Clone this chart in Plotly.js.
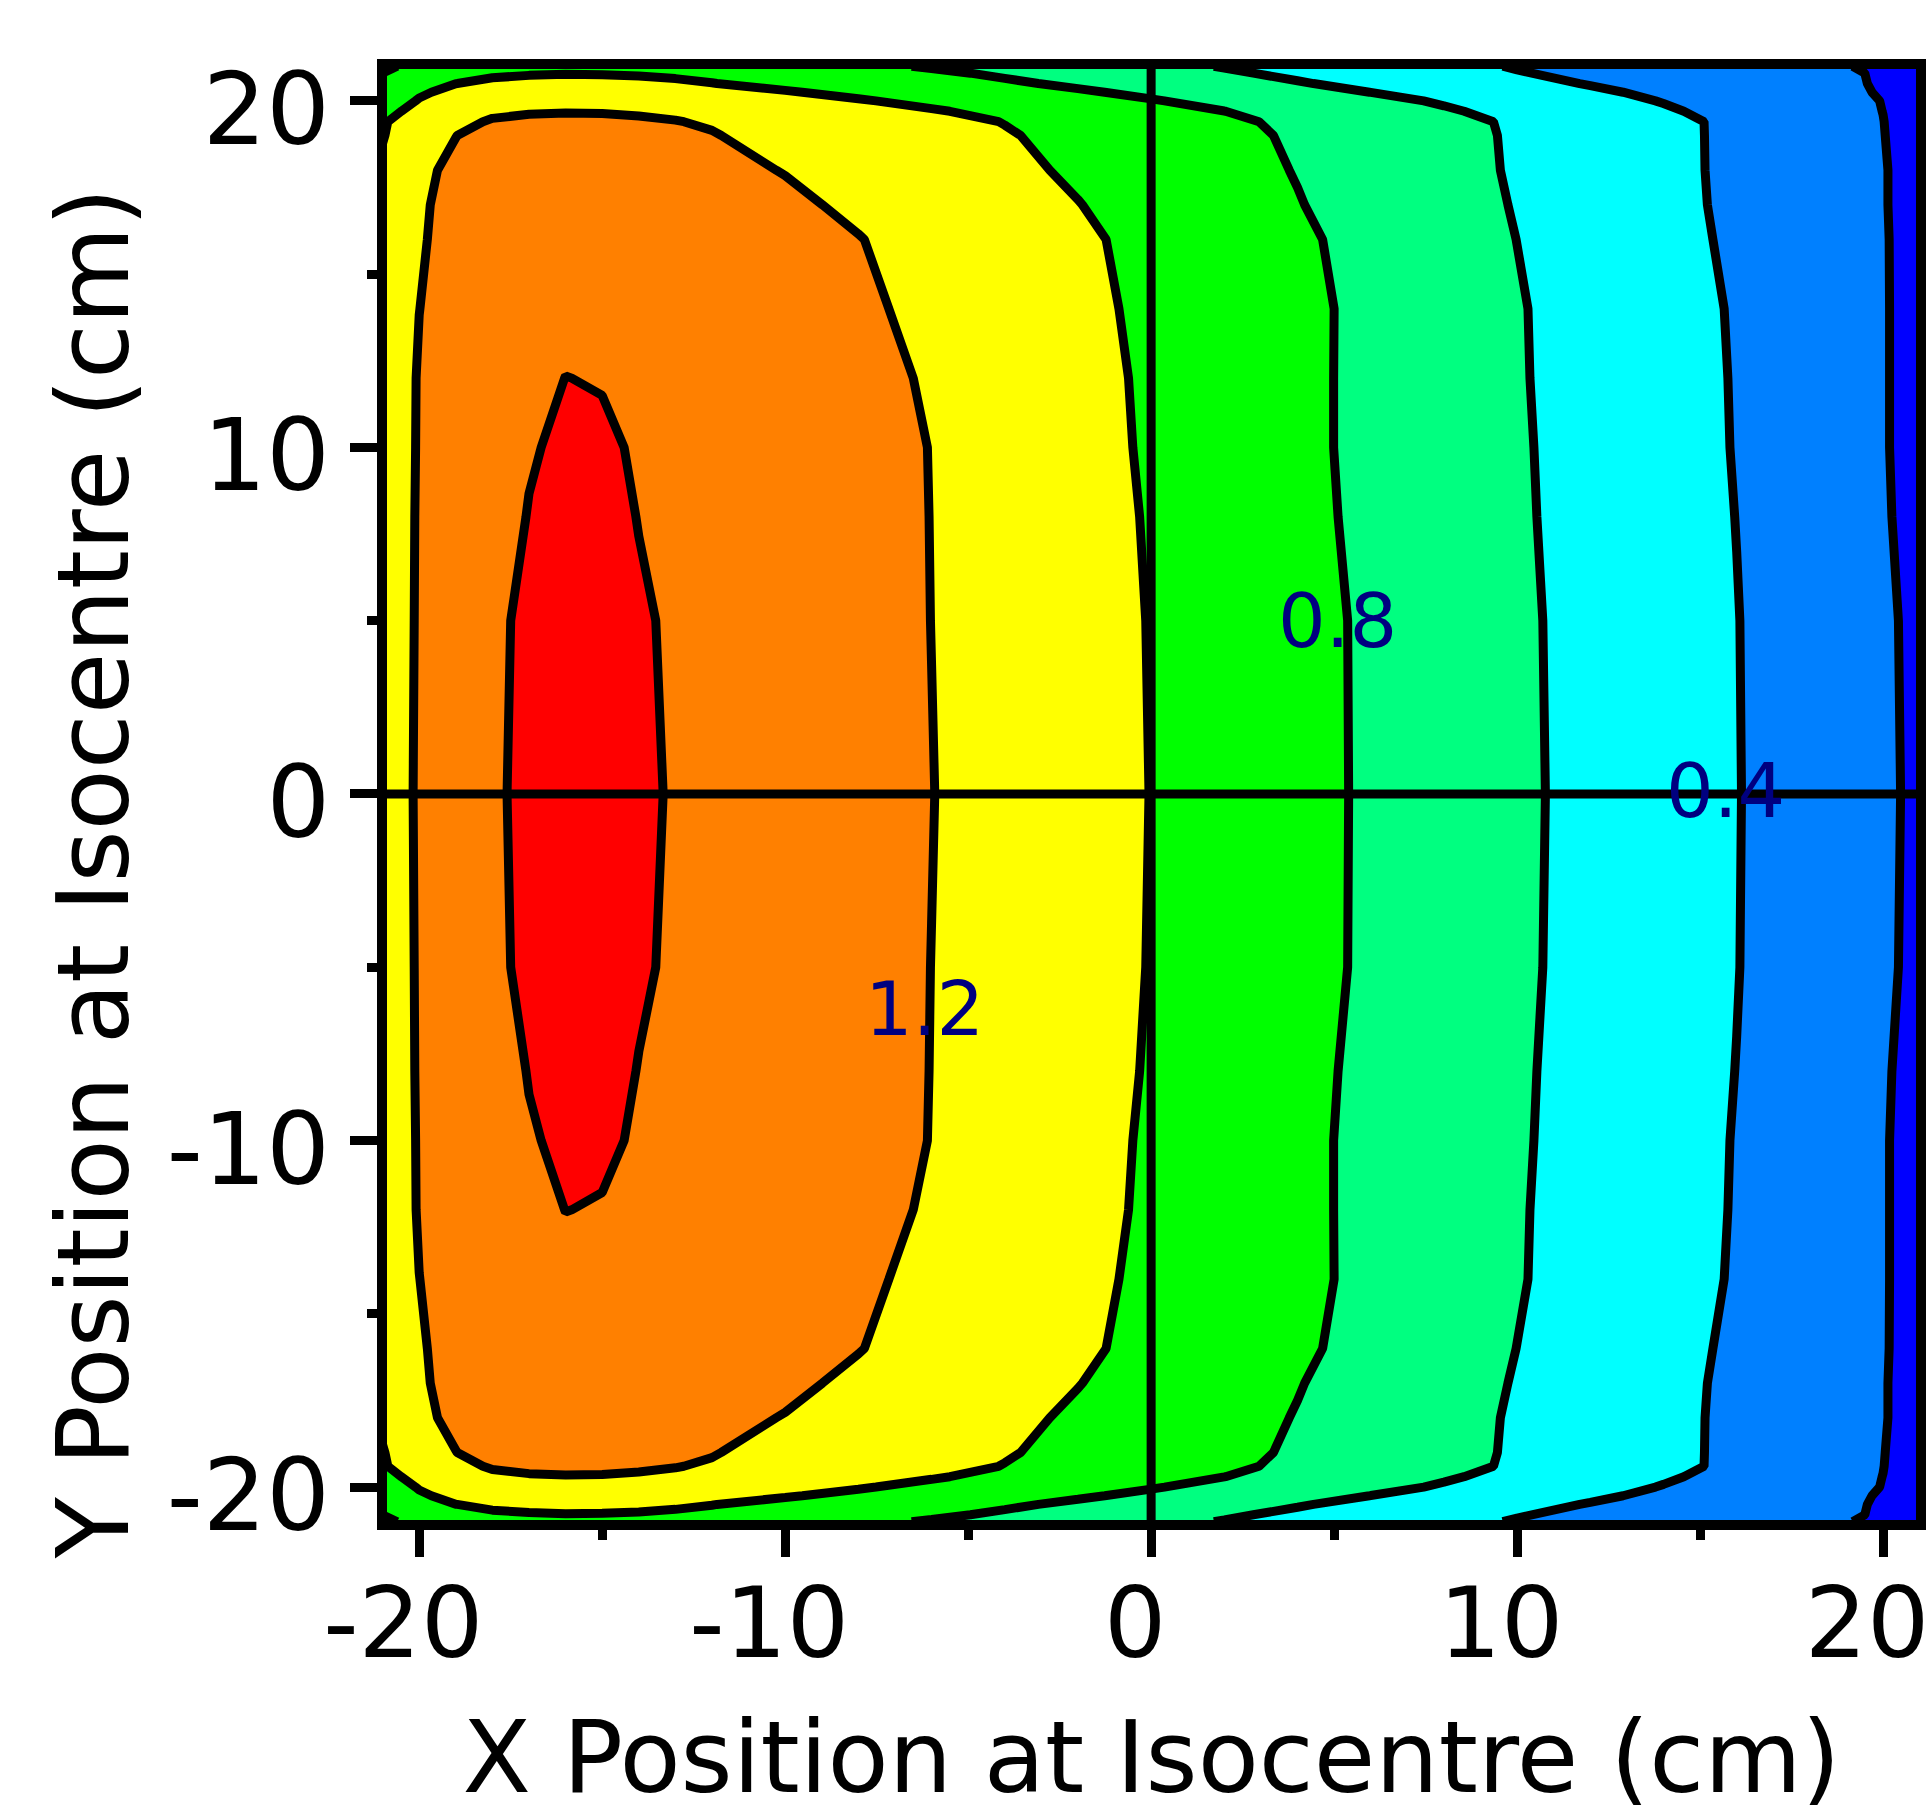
<!DOCTYPE html>
<html>
<head>
<meta charset="utf-8">
<script src="https://cdn.plot.ly/plotly-3.0.1.min.js"></script>
<style>html,body{margin:0;padding:0;background:#fff;} #chart{width:1929px;height:1816px;}</style>
</head>
<body>
<div id="chart"></div>
<script>
// Grid positions (cm)
const xPositions = [-21, -20.5, -20, -19, -18, -17, -16, -15, -14, -13, -12, -10, -8, -6, -4, -2, 0, 2, 4, 6, 8, 10, 12, 14, 16, 18, 19, 20, 20.5, 21];
const yPositions = [-21, -20.8, -20.5, -20.25, -20, -19.7, -19.4, -19, -18, -17, -16, -14, -12, -10, -8, -5, 0, 5, 8, 10, 12, 14, 16, 17, 18, 19, 19.4, 19.7, 20, 20.25, 20.5, 20.8, 21];

// Relative dose (one row per y position, one value per x position)
const doseRows = [
  [0.76, 0.81, 0.86, 0.91, 0.935, 0.945, 0.95, 0.948, 0.943, 0.934, 0.921, 0.877, 0.832, 0.788, 0.741, 0.692, 0.642, 0.593, 0.542, 0.492, 0.441, 0.390, 0.347, 0.305, 0.264, 0.222, 0.205, 0.176, 0.124, 0.067],
  [0.80, 0.85, 0.90, 0.955, 0.98, 0.99, 0.995, 0.993, 0.988, 0.978, 0.965, 0.919, 0.872, 0.826, 0.777, 0.725, 0.673, 0.621, 0.568, 0.515, 0.462, 0.409, 0.364, 0.320, 0.277, 0.233, 0.215, 0.185, 0.13, 0.07],
  [0.84, 0.89, 0.94, 0.999, 1.025, 1.037, 1.04, 1.038, 1.032, 1.02, 1.003, 0.959, 0.914, 0.868, 0.823, 0.773, 0.719, 0.666, 0.612, 0.557, 0.502, 0.447, 0.392, 0.342, 0.292, 0.242, 0.216, 0.188, 0.14, 0.075],
  [0.88, 0.93, 0.98, 1.04, 1.07, 1.085, 1.09, 1.088, 1.082, 1.072, 1.057, 1.011, 0.964, 0.916, 0.867, 0.819, 0.767, 0.711, 0.656, 0.599, 0.542, 0.484, 0.426, 0.368, 0.310, 0.252, 0.223, 0.19, 0.15, 0.08],
  [0.92, 0.96, 1.01, 1.08, 1.12, 1.135, 1.14, 1.138, 1.132, 1.122, 1.107, 1.059, 1.012, 0.962, 0.911, 0.861, 0.810, 0.755, 0.699, 0.642, 0.584, 0.521, 0.457, 0.393, 0.328, 0.262, 0.229, 0.197, 0.16, 0.085],
  [0.95, 0.999, 1.06, 1.15, 1.185, 1.193, 1.196, 1.195, 1.19, 1.183, 1.159, 1.110, 1.062, 1.013, 0.961, 0.908, 0.855, 0.801, 0.740, 0.679, 0.618, 0.553, 0.487, 0.42, 0.348, 0.274, 0.237, 0.199, 0.165, 0.09],
  [0.98, 1.05, 1.11, 1.18, 1.207, 1.217, 1.22, 1.218, 1.212, 1.203, 1.19, 1.138, 1.091, 1.044, 0.996, 0.940, 0.884, 0.828, 0.769, 0.706, 0.644, 0.579, 0.510, 0.441, 0.367, 0.285, 0.243, 0.202, 0.168, 0.09],
  [0.99, 1.07, 1.14, 1.199, 1.225, 1.237, 1.24, 1.238, 1.232, 1.22, 1.206, 1.159, 1.110, 1.061, 1.012, 0.957, 0.899, 0.841, 0.780, 0.715, 0.649, 0.582, 0.512, 0.442, 0.367, 0.286, 0.245, 0.204, 0.17, 0.09],
  [1.035, 1.11, 1.185, 1.215, 1.245, 1.268, 1.28, 1.278, 1.268, 1.253, 1.236, 1.195, 1.141, 1.088, 1.035, 0.978, 0.917, 0.855, 0.793, 0.723, 0.654, 0.584, 0.513, 0.442, 0.368, 0.288, 0.248, 0.208, 0.178, 0.10],
  [1.045, 1.115, 1.187, 1.23, 1.265, 1.295, 1.31, 1.307, 1.295, 1.278, 1.262, 1.227, 1.174, 1.118, 1.061, 1.004, 0.939, 0.873, 0.807, 0.735, 0.663, 0.591, 0.518, 0.445, 0.370, 0.289, 0.248, 0.208, 0.178, 0.10],
  [1.05, 1.12, 1.19, 1.235, 1.275, 1.31, 1.33, 1.328, 1.315, 1.297, 1.28, 1.245, 1.205, 1.144, 1.083, 1.025, 0.96, 0.887, 0.824, 0.754, 0.673, 0.599, 0.526, 0.452, 0.375, 0.293, 0.252, 0.21, 0.18, 0.10],
  [1.06, 1.13, 1.199, 1.25, 1.30, 1.345, 1.37, 1.365, 1.35, 1.325, 1.305, 1.265, 1.225, 1.165, 1.101, 1.037, 0.971, 0.903, 0.835, 0.765, 0.687, 0.611, 0.537, 0.463, 0.387, 0.299, 0.255, 0.211, 0.18, 0.10],
  [1.07, 1.151, 1.21, 1.26, 1.31, 1.365, 1.401, 1.395, 1.375, 1.35, 1.33, 1.29, 1.245, 1.185, 1.114, 1.047, 0.979, 0.907, 0.836, 0.763, 0.688, 0.613, 0.539, 0.466, 0.391, 0.301, 0.256, 0.211, 0.18, 0.10],
  [1.08, 1.155, 1.211, 1.269, 1.326, 1.39, 1.42, 1.415, 1.39, 1.365, 1.345, 1.305, 1.25, 1.197, 1.125, 1.054, 0.982, 0.909, 0.836, 0.763, 0.690, 0.617, 0.543, 0.469, 0.393, 0.302, 0.257, 0.211, 0.18, 0.10],
  [1.09, 1.159, 1.213, 1.279, 1.344, 1.405, 1.44, 1.435, 1.397, 1.375, 1.355, 1.315, 1.257, 1.198, 1.129, 1.059, 0.989, 0.915, 0.841, 0.767, 0.694, 0.620, 0.546, 0.472, 0.398, 0.306, 0.26, 0.214, 0.185, 0.11],
  [1.10, 1.16, 1.215, 1.292, 1.375, 1.425, 1.455, 1.45, 1.413, 1.385, 1.365, 1.325, 1.265, 1.199, 1.132, 1.063, 0.995, 0.923, 0.850, 0.777, 0.702, 0.626, 0.552, 0.478, 0.404, 0.313, 0.267, 0.221, 0.196, 0.12],
  [1.10, 1.16, 1.22, 1.30, 1.38, 1.43, 1.46, 1.455, 1.42, 1.39, 1.37, 1.33, 1.27, 1.203, 1.135, 1.067, 0.998, 0.925, 0.851, 0.778, 0.703, 0.629, 0.554, 0.480, 0.406, 0.315, 0.269, 0.223, 0.199, 0.12],
  [1.10, 1.16, 1.215, 1.292, 1.375, 1.425, 1.455, 1.45, 1.413, 1.385, 1.365, 1.325, 1.265, 1.199, 1.132, 1.063, 0.995, 0.923, 0.850, 0.777, 0.702, 0.626, 0.552, 0.478, 0.404, 0.313, 0.267, 0.221, 0.196, 0.12],
  [1.09, 1.159, 1.213, 1.279, 1.344, 1.405, 1.44, 1.435, 1.397, 1.375, 1.355, 1.315, 1.257, 1.198, 1.129, 1.059, 0.989, 0.915, 0.841, 0.767, 0.694, 0.620, 0.546, 0.472, 0.398, 0.306, 0.26, 0.214, 0.185, 0.11],
  [1.08, 1.155, 1.211, 1.269, 1.326, 1.39, 1.42, 1.415, 1.39, 1.365, 1.345, 1.305, 1.25, 1.197, 1.125, 1.054, 0.982, 0.909, 0.836, 0.763, 0.690, 0.617, 0.543, 0.469, 0.393, 0.302, 0.257, 0.211, 0.18, 0.10],
  [1.07, 1.151, 1.21, 1.26, 1.31, 1.365, 1.401, 1.395, 1.375, 1.35, 1.33, 1.29, 1.245, 1.185, 1.114, 1.047, 0.979, 0.907, 0.836, 0.763, 0.688, 0.613, 0.539, 0.466, 0.391, 0.301, 0.256, 0.211, 0.18, 0.10],
  [1.06, 1.13, 1.199, 1.25, 1.30, 1.345, 1.37, 1.365, 1.35, 1.325, 1.305, 1.265, 1.225, 1.165, 1.101, 1.037, 0.971, 0.903, 0.835, 0.765, 0.687, 0.611, 0.537, 0.463, 0.387, 0.299, 0.255, 0.211, 0.18, 0.10],
  [1.05, 1.12, 1.19, 1.235, 1.275, 1.31, 1.33, 1.328, 1.315, 1.297, 1.28, 1.245, 1.205, 1.144, 1.083, 1.025, 0.96, 0.887, 0.824, 0.754, 0.673, 0.599, 0.526, 0.452, 0.375, 0.293, 0.252, 0.21, 0.18, 0.10],
  [1.045, 1.115, 1.187, 1.23, 1.265, 1.295, 1.31, 1.307, 1.295, 1.278, 1.262, 1.227, 1.174, 1.118, 1.061, 1.004, 0.939, 0.873, 0.807, 0.735, 0.663, 0.591, 0.518, 0.445, 0.370, 0.289, 0.248, 0.208, 0.178, 0.10],
  [1.035, 1.11, 1.185, 1.215, 1.245, 1.268, 1.28, 1.278, 1.268, 1.253, 1.236, 1.195, 1.141, 1.088, 1.035, 0.978, 0.917, 0.855, 0.793, 0.723, 0.654, 0.584, 0.513, 0.442, 0.368, 0.288, 0.248, 0.208, 0.178, 0.10],
  [0.99, 1.07, 1.14, 1.199, 1.225, 1.237, 1.24, 1.238, 1.232, 1.22, 1.206, 1.159, 1.110, 1.061, 1.012, 0.957, 0.899, 0.841, 0.780, 0.715, 0.649, 0.582, 0.512, 0.442, 0.367, 0.286, 0.245, 0.204, 0.17, 0.09],
  [0.98, 1.05, 1.11, 1.18, 1.207, 1.217, 1.22, 1.218, 1.212, 1.203, 1.19, 1.138, 1.091, 1.044, 0.996, 0.940, 0.884, 0.828, 0.769, 0.706, 0.644, 0.579, 0.510, 0.441, 0.367, 0.285, 0.243, 0.202, 0.168, 0.09],
  [0.95, 0.999, 1.06, 1.15, 1.185, 1.193, 1.196, 1.195, 1.19, 1.183, 1.159, 1.110, 1.062, 1.013, 0.961, 0.908, 0.855, 0.801, 0.740, 0.679, 0.618, 0.553, 0.487, 0.42, 0.348, 0.274, 0.237, 0.199, 0.165, 0.09],
  [0.92, 0.96, 1.01, 1.08, 1.12, 1.135, 1.14, 1.138, 1.132, 1.122, 1.107, 1.059, 1.012, 0.962, 0.911, 0.861, 0.810, 0.755, 0.699, 0.642, 0.584, 0.521, 0.457, 0.393, 0.328, 0.262, 0.229, 0.197, 0.16, 0.085],
  [0.88, 0.93, 0.98, 1.04, 1.07, 1.085, 1.09, 1.088, 1.082, 1.072, 1.057, 1.011, 0.964, 0.916, 0.867, 0.819, 0.767, 0.711, 0.656, 0.599, 0.542, 0.484, 0.426, 0.368, 0.310, 0.252, 0.223, 0.19, 0.15, 0.08],
  [0.84, 0.89, 0.94, 0.999, 1.025, 1.037, 1.04, 1.038, 1.032, 1.02, 1.003, 0.959, 0.914, 0.868, 0.823, 0.773, 0.719, 0.666, 0.612, 0.557, 0.502, 0.447, 0.392, 0.342, 0.292, 0.242, 0.216, 0.188, 0.14, 0.075],
  [0.80, 0.85, 0.90, 0.955, 0.98, 0.99, 0.995, 0.993, 0.988, 0.978, 0.965, 0.919, 0.872, 0.826, 0.777, 0.725, 0.673, 0.621, 0.568, 0.515, 0.462, 0.409, 0.364, 0.320, 0.277, 0.233, 0.215, 0.185, 0.13, 0.07],
  [0.76, 0.81, 0.86, 0.91, 0.935, 0.945, 0.95, 0.948, 0.943, 0.934, 0.921, 0.877, 0.832, 0.788, 0.741, 0.692, 0.642, 0.593, 0.542, 0.492, 0.441, 0.390, 0.347, 0.305, 0.264, 0.222, 0.205, 0.176, 0.124, 0.067]
];

const bandColors = ['#0000FF', '#0080FF', '#00FFFF', '#00FF80', '#00FF00', '#FFFF00', '#FF8000', '#FF0000'];
const tickValues = [-20, -10, 0, 10, 20];
const tickLabels = ['-20', '-10', '0', '10', '20'];
const minorTickValues = [-15, -5, 5, 15];
const labelText = ['0.4', '0.8', '1.2'];
const labelX = [15.7, 5.1, -6.2];
const labelY = [0.1, 5.0, -6.2];

// stepped colour scale: one flat colour per band
const nb = bandColors.length;
const colorscale = [];
bandColors.forEach(function (c, i) {
  colorscale.push([Math.max(0, (i - 0.5) / (nb - 1)), c]);
  colorscale.push([Math.min(1, (i + 0.5) / (nb - 1)), c]);
});

const FONT = 'DejaVu Sans, Arial, sans-serif';

const trace = {
  type: 'contour',
  x: xPositions,
  y: yPositions,
  z: doseRows,
  autocontour: false,
  contours: { start: 0.2, end: 1.41, size: 0.2, coloring: 'fill', showlines: true },
  line: { color: 'black', width: 9, smoothing: 0 },
  colorscale: colorscale,
  showscale: false,
  hoverinfo: 'skip'
};

const axisCommon = {
  showgrid: false,
  zeroline: false,
  showline: true,
  mirror: true,
  linecolor: 'black',
  linewidth: 10,
  ticks: 'outside',
  ticklen: 27,
  tickwidth: 9,
  tickcolor: 'black',
  tickvals: tickValues,
  ticktext: tickLabels,
  tickfont: { family: FONT, size: 100, color: 'black' },
  minor: { ticks: 'outside', ticklen: 10, tickwidth: 9, tickcolor: 'black', tickvals: minorTickValues },
  fixedrange: true
};

const annotations = labelText.map(function (t, i) {
  return {
    text: t, x: labelX[i], y: labelY[i], xref: 'x', yref: 'y', showarrow: false,
    font: { family: FONT, size: 75, color: '#000080' }
  };
});
annotations.push({
  text: 'Y Position at Isocentre (cm)', textangle: -90,
  xref: 'paper', yref: 'paper', x: -0.192, y: 0.446,
  xanchor: 'center', yanchor: 'middle', showarrow: false,
  font: { family: FONT, size: 100, color: 'black' }
});

const layout = {
  width: 1929,
  height: 1816,
  margin: { l: 387, r: 13, t: 69, b: 296, pad: 0 },
  paper_bgcolor: 'white',
  plot_bgcolor: 'white',
  showlegend: false,
  xaxis: Object.assign({}, axisCommon, {
    range: [-20.88, 20.9],
    tickfont: { family: FONT, size: 98, color: 'black' },
    ticklabeloverflow: 'allow',
    ticklabelshift: -16,
    ticklabelstandoff: -18,
    title: { text: 'X Position at Isocentre (cm)', font: { family: FONT, size: 100, color: 'black' }, standoff: 48 }
  }),
  yaxis: Object.assign({}, axisCommon, {
    range: [-20.95, 20.92],
    ticklabelshift: 8
  }),
  shapes: [
    { type: 'line', xref: 'x', yref: 'paper', x0: 0, x1: 0, y0: 0, y1: 1, line: { color: 'black', width: 9 }, layer: 'above' },
    { type: 'line', xref: 'paper', yref: 'y', x0: 0, x1: 1, y0: 0, y1: 0, line: { color: 'black', width: 9 }, layer: 'above' }
  ],
  annotations: annotations
};

Plotly.newPlot('chart', [trace], layout, { staticPlot: true, displayModeBar: false });
</script>
</body>
</html>
